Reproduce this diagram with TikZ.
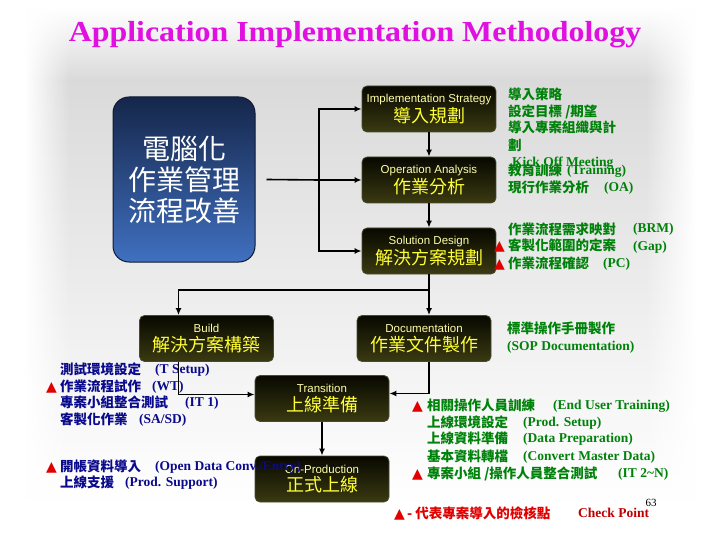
\documentclass[tikz,border=0pt]{standalone}
\usepackage{fontspec}
\setmainfont{Liberation Serif}
\newfontfamily\cjk{Noto Sans CJK TC}
\newfontfamily\labelsans{Liberation Sans}
\newfontfamily\symbolfont{DejaVu Sans}
\usetikzlibrary{positioning, calc, arrows.meta, fadings}
\definecolor{TitleMag}{HTML}{E010E0}
\definecolor{BgGray}{HTML}{DADADA}
\definecolor{BoxTop}{HTML}{080800}
\definecolor{BoxBottom}{HTML}{3A3A12}
\definecolor{BoxEdge}{HTML}{4A4A30}
\definecolor{BoxYellow}{HTML}{FFFF33}
\definecolor{LabelYellow}{HTML}{FFFFA8}
\definecolor{NavyTop}{HTML}{15264A}
\definecolor{NavyBottom}{HTML}{4070C0}
\definecolor{NavyEdge}{HTML}{0E1A33}
\definecolor{NoteGreen}{HTML}{00820A}
\definecolor{NoteBlue}{HTML}{0A0A8C}
\definecolor{NoteRed}{HTML}{E00000}
\newcommand{\procname}[2]{{\labelsans\color{LabelYellow}\fontsize{11.5}{13}\selectfont #1}\\[2pt]{\cjk\fontsize{18}{21}\selectfont #2}}
\tikzset{
    procbox/.style={rectangle, rounded corners=5pt, minimum width=134pt, minimum height=46pt, top color=BoxTop, bottom color=BoxBottom, draw=BoxEdge, line width=0.8pt, align=center, text=BoxYellow, inner sep=2pt},
    mainbox/.style={rectangle, rounded corners=16pt, minimum width=142pt, minimum height=165pt, top color=NavyTop, bottom color=NavyBottom, draw=NavyEdge, line width=1pt, align=center, text=white, font=\cjk\fontsize{28}{31}\selectfont},
    arrow/.style={-{Latex[length=7pt, width=6pt]}, line width=1.6pt, color=black},
    line/.style={line width=1.6pt, color=black},
    greennote/.style={anchor=base west, inner sep=0pt, text=NoteGreen, font=\cjk\bfseries\fontsize{13.5}{16}\selectfont},
    greenlatin/.style={anchor=base west, inner sep=0pt, text=NoteGreen, font=\bfseries\fontsize{13.5}{16}\selectfont},
    bluenote/.style={anchor=base west, inner sep=0pt, text=NoteBlue, font=\cjk\bfseries\fontsize{13.5}{16}\selectfont},
    bluelatin/.style={anchor=base west, inner sep=0pt, text=NoteBlue, font=\bfseries\fontsize{13.5}{16}\selectfont},
    rednote/.style={anchor=base west, inner sep=0pt, text=NoteRed, font=\cjk\bfseries\fontsize{13.5}{16}\selectfont},
    redlatin/.style={anchor=base west, inner sep=0pt, text=NoteRed!85!black, font=\bfseries\fontsize{13.5}{16}\selectfont},
    redtri/.style={anchor=base west, inner sep=0pt, text=NoteRed, font=\symbolfont\fontsize{14}{16}\selectfont},
}

\begin{document}
\begin{tikzpicture}[x=1pt, y=-1pt]
    \useasboundingbox (0,0) rectangle (720,540);
    % background
    \fill[top color=white, bottom color=BgGray] (26,8) rectangle (694,80);
    \fill[top color=BgGray, bottom color=white] (26,80) rectangle (694,505);
    \fill[white, path fading=east] (25,7) rectangle (70,506);
    \fill[white, path fading=west] (645,7) rectangle (695,506);

    % title
    \node[font=\bfseries\fontsize{29}{32}\selectfont, text=TitleMag, xscale=1.1, transform shape, anchor=base] (title) at (355,42) {Application Implementation Methodology};

    % boxes
    \node[mainbox] (ctr) at (184,179.5) {電腦化\\作業管理\\流程改善};
    \node[procbox] (impl) at (429,109) {\procname{Implementation Strategy}{導入規劃}};
    \node[procbox] (oa) at (429,180) {\procname{Operation Analysis}{作業分析}};
    \node[procbox] (sd) at (429,251) {\procname{Solution Design}{解決方案規劃}};
    \node[procbox] (build) at (206.5,338.5) {\procname{Build}{解決方案構築}};
    \node[procbox] (doc) at (424,338.5) {\procname{Documentation}{作業文件製作}};
    \node[procbox] (trans) at (322,398.5) {\procname{Transition}{上線準備}};
    \node[procbox] (prod) at (322,479) {\procname{On-Production}{正式上線}};

    % notes: implementation strategy
    \node[greennote] (impl-a) at (508,100) {導入策略};
    \node[greennote] (impl-b) at (508,117) {設定目標 /期望};
    \node[greennote] (impl-c) at (508,133) {導入專案組織與計};
    \node[greennote] (impl-d) at (508,151) {劃};
    \node[greenlatin] (impl-e) at (512,167) {Kick Off Meeting};
    \node[greennote] (impl-f) at (508,176) {教育訓練};
    \node[greenlatin] (impl-f2) at (567,175) {(Training)};
    \node[greennote] (impl-g) at (508,193) {現行作業分析};
    \node[greenlatin] (impl-g2) at (604,192) {(OA)};

    % notes: solution design
    \node[greennote] (sd-a) at (508,234) {作業流程需求映對};
    \node[greenlatin] (sd-a2) at (633,233) {(BRM)};
    \node[redtri] (sd-t1) at (494,251) {▲};
    \node[greennote] (sd-b) at (508,251) {客製化範圍的定案};
    \node[greenlatin] (sd-b2) at (633,250) {(Gap)};
    \node[redtri] (sd-t2) at (494,268) {▲};
    \node[greennote] (sd-c) at (508,268) {作業流程確認};
    \node[greenlatin] (sd-c2) at (603,267) {(PC)};

    % notes: documentation
    \node[greennote] (doc-a) at (507,333) {標準操作手冊製作};
    \node[greenlatin] (doc-b) at (507,350) {(SOP Documentation)};

    % notes: transition
    \node[redtri] (tr-t1) at (412,410) {▲};
    \node[greennote] (tr-a) at (427,410) {相關操作人員訓練};
    \node[greenlatin] (tr-a2) at (553,409) {(End User Training)};
    \node[greennote] (tr-b) at (427,427) {上線環境設定};
    \node[greenlatin] (tr-b2) at (523,426) {(Prod. Setup)};
    \node[greennote] (tr-c) at (427,443) {上線資料準備};
    \node[greenlatin] (tr-c2) at (523,442) {(Data Preparation)};
    \node[greennote] (tr-d) at (427,461) {基本資料轉檔};
    \node[greenlatin] (tr-d2) at (523,460) {(Convert Master Data)};
    \node[redtri] (tr-t2) at (412,478) {▲};
    \node[greennote] (tr-e) at (427,478) {專案小組 /操作人員整合測試};
    \node[greenlatin] (tr-e2) at (618,477) {(IT 2\textasciitilde N)};

    % notes: build
    \node[bluenote] (bd-a) at (60,374) {測試環境設定};
    \node[bluelatin] (bd-a2) at (155,373) {(T Setup)};
    \node[redtri] (bd-t1) at (46,391) {▲};
    \node[bluenote] (bd-b) at (60,391) {作業流程試作};
    \node[bluelatin] (bd-b2) at (152,390) {(WT)};
    \node[bluenote] (bd-c) at (60,407) {專案小組整合測試};
    \node[bluelatin] (bd-c2) at (185,406) {(IT 1)};
    \node[bluenote] (bd-d) at (60,424) {客製化作業};
    \node[bluelatin] (bd-d2) at (139,423) {(SA/SD)};

    % notes: on-production
    \node[redtri] (pr-t1) at (46,471) {▲};
    \node[bluenote] (pr-a) at (60,471) {開帳資料導入};
    \node[bluelatin] (pr-a2) at (155,470) {(Open Data Conv./Entry)};
    \node[bluenote] (pr-b) at (60,487) {上線支援};
    \node[bluelatin] (pr-b2) at (125,486) {(Prod. Support)};

    % legend
    \node[redtri] (lg-t) at (394,518) {▲};
    \node[rednote] (lg-a) at (407,518) {- 代表專案導入的檢核點};
    \node[redlatin] (lg-b) at (578,517) {Check Point};
    \node[font=\fontsize{11}{12}\selectfont] (page) at (651,503) {63};

    % connectors
    \coordinate (bus) at (319,180);
    \coordinate (split) at (429,290);
    \draw[line] ([xshift=11pt]ctr.east) -- (bus);
    \draw[arrow] (bus) -- (oa.west);
    \draw[arrow] (bus) |- (impl.west);
    \draw[arrow] (bus) |- (sd.west);
    \draw[arrow] (impl) -- (oa);
    \draw[arrow] (oa) -- (sd);
    \draw[line] (sd) -- (split);
    \draw[arrow] (split) -| ([xshift=-28pt]build.north);
    \draw[arrow] (split) -- (split |- doc.north);
    \draw[arrow] ([xshift=-28pt]build.south) |- ([yshift=4pt]trans.west);
    \draw[arrow] (split |- doc.south) |- ([yshift=5pt]trans.east);
    \draw[arrow] (trans) -- (prod);
\end{tikzpicture}
\end{document}
